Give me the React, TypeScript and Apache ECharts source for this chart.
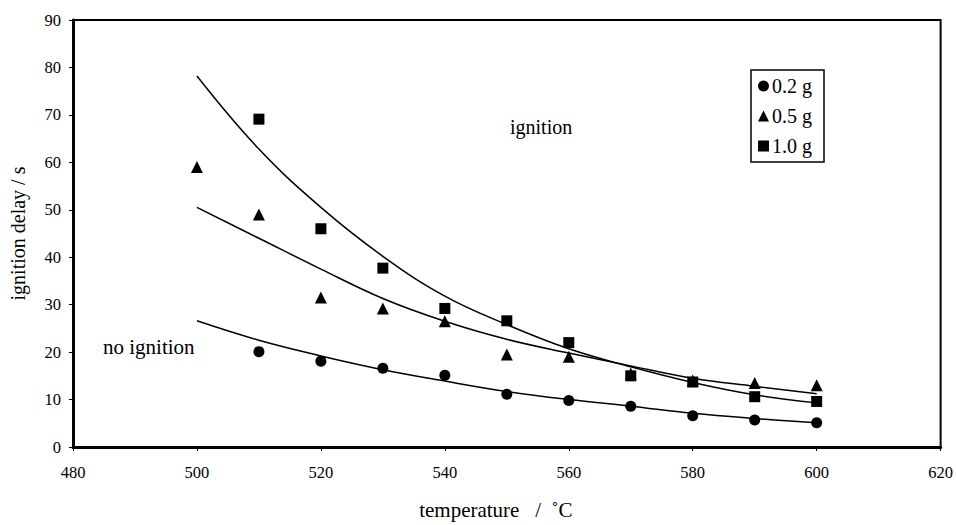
import React, { useEffect, useRef } from "react";
import * as echarts from "echarts";

const temps = [500, 510, 520, 530, 540, 550, 560, 570, 580, 590, 600];

// measured points (null = no point)
const delay02 = [null, 20.1, 18.1, 16.6, 15.1, 11.1, 9.8, 8.6, 6.6, 5.7, 5.1];
const delay05 = [59, 49, 31.5, 29.2, 26.5, 19.5, 19, 15.5, 14, 13.5, 13];
const delay10 = [null, 69.1, 46, 37.7, 29.2, 26.6, 22, 15, 13.7, 10.6, 9.6];

// fitted trend curves
const fit02 = [26.6, 22.5, 19.2, 16.3, 13.9, 11.7, 10.0, 8.6, 7.1, 6.0, 5.1];
const fit05 = [50.5, 44.0, 37.5, 31.3, 26.5, 22.7, 19.8, 17.1, 14.5, 12.8, 11.2];
const fit10 = [78.2, 62.8, 50.5, 40.2, 31.8, 25.8, 20.7, 16.9, 13.6, 11.0, 9.3];

const xTicks = { min: 480, max: 620, interval: 20 };
const yTicks = { min: 0, max: 90, interval: 10 };

const seriesNames = ["0.2 g", "0.5 g", "1.0 g"];
const FONT = "'Liberation Serif', 'Times New Roman', serif";

const pairs = (vals: (number | null)[]) =>
  temps.map((t, i) => [t, vals[i]]).filter((p) => p[1] !== null);

export default function App() {
  const ref = useRef<HTMLDivElement>(null);
  useEffect(() => {
    if (!ref.current) return;
    const chart = echarts.init(ref.current, undefined, { renderer: "svg" });
    const fitLine = (vals: number[]) => ({
      type: "line",
      data: pairs(vals),
      smooth: 0.4,
      showSymbol: false,
      symbol: "none",
      lineStyle: { color: "#000", width: 1.5 },
      silent: true,
      z: 1,
    });
    const scatter = (name: string, vals: (number | null)[], symbol: string, size: number, z: number) => ({
      name,
      type: "scatter",
      data: pairs(vals),
      symbol,
      symbolSize: size,
      itemStyle: { color: "#000", opacity: 1 },
      z,
    });
    chart.setOption({
      animation: false,
      backgroundColor: "#fff",
      textStyle: { fontFamily: FONT },
      grid: {
        left: 70,
        right: 14,
        top: 20,
        bottom: 72,
        show: true,
        borderColor: "#000",
        borderWidth: 2,
        backgroundColor: "transparent",
      },
      legend: {
        data: seriesNames,
        orient: "vertical",
        left: 751,
        top: 70,
        padding: [6, 12, 6, 7],
        itemGap: 10,
        itemWidth: 11,
        itemHeight: 11,
        borderColor: "#000",
        borderWidth: 1.5,
        borderRadius: 0,
        itemStyle: { opacity: 1, color: "#000" },
        textStyle: { fontFamily: FONT, fontSize: 20, color: "#000", padding: [0, 0, 0, -2] },
      },
      xAxis: {
        type: "value",
        min: xTicks.min,
        max: xTicks.max,
        interval: xTicks.interval,
        name: "temperature\u00a0\u00a0 / \u00a0˚C",
        nameLocation: "middle",
        nameGap: 52,
        nameTextStyle: { fontFamily: FONT, fontSize: 21, color: "#000", padding: [0, 22, 0, 0] },
        splitLine: { show: false },
        axisLine: { show: true, lineStyle: { color: "#000", width: 3 } },
        axisTick: { show: true, inside: false, length: 4, lineStyle: { color: "#000", width: 1 } },
        axisLabel: { fontFamily: FONT, fontSize: 16.5, color: "#000", margin: 17 },
      },
      yAxis: {
        type: "value",
        min: yTicks.min,
        max: yTicks.max,
        interval: yTicks.interval,
        name: "ignition delay / s",
        nameLocation: "middle",
        nameGap: 45,
        nameTextStyle: { fontFamily: FONT, fontSize: 20, color: "#000" },
        splitLine: { show: false },
        axisLine: { show: true, lineStyle: { color: "#000", width: 3 } },
        axisTick: { show: true, inside: false, length: 4, lineStyle: { color: "#000", width: 1 } },
        axisLabel: { fontFamily: FONT, fontSize: 16.5, color: "#000", margin: 12 },
      },
      graphic: [
        {
          type: "text",
          left: 510,
          top: 117,
          style: { text: "ignition", font: `20px ${FONT}`, fill: "#000" },
        },
        {
          type: "text",
          left: 103,
          top: 336,
          style: { text: "no ignition", font: `21px ${FONT}`, fill: "#000" },
        },
      ],
      series: [
        fitLine(fit02),
        fitLine(fit05),
        fitLine(fit10),
        scatter(seriesNames[0], delay02, "circle", 11, 3),
        scatter(seriesNames[1], delay05, "triangle", 12, 3),
        scatter(seriesNames[2], delay10, "rect", 11, 4),
      ],
    });
    return () => chart.dispose();
  }, []);
  return <div ref={ref} style={{ width: 956, height: 525, position: "fixed", left: 0, top: 0 }} />;
}
